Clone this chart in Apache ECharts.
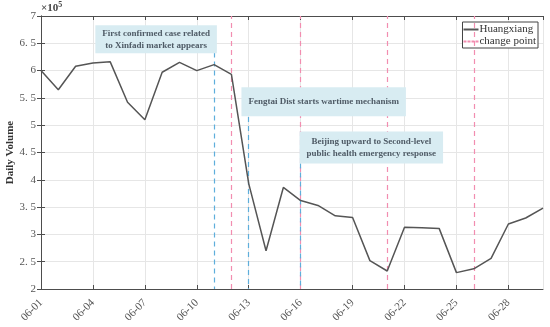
<!DOCTYPE html>
<html>
<head>
<meta charset="utf-8">
<script src="https://cdn.jsdelivr.net/npm/echarts@6/dist/echarts.min.js"></script>
<style>
  html, body { margin: 0; padding: 0; background: #fff; }
  #chart { width: 550px; height: 327px; }
</style>
</head>
<body>
<div id="chart"></div>
<script>
// dates (day index 0 = 06-01)
const days = ['06-01','06-02','06-03','06-04','06-05','06-06','06-07','06-08','06-09','06-10',
              '06-11','06-12','06-13','06-14','06-15','06-16','06-17','06-18','06-19','06-20',
              '06-21','06-22','06-23','06-24','06-25','06-26','06-27','06-28','06-29','06-30'];

// daily volume, in units of 10^5
const huangxiang = [6.00, 5.65, 6.08, 6.14, 6.16, 5.42, 5.10, 5.97, 6.15, 6.00,
                    6.11, 5.93, 3.93, 2.70, 3.86, 3.62, 3.53, 3.34, 3.31, 2.52,
                    2.33, 3.13, 3.12, 3.11, 2.30, 2.37, 2.56, 3.19, 3.30, 3.48];

// change points (day index)
const changePoints = [11, 15, 20, 25];

// event annotations: day of event, text, label centre, top of the guide line
const events = [
  { day: 10, text: 'First confirmed case related\nto Xinfadi market appears', at: [6.65, 6.575], top: 6.33, pad: [2, 7, 2, 7] },
  { day: 12, text: 'Fengtai Dist starts wartime mechanism', at: [16.33, 5.43], top: 5.15, pad: [9, 7, 8, 7] },
  { day: 15, text: 'Beijing upward to Second-level\npublic health emergency response', at: [19.08, 4.59], top: 4.30, pad: [4, 7, 4, 7] }
];

const serif = '"Liberation Serif", "Times New Roman", serif';
const axisColor = '#4d4d4d';

const chart = echarts.init(document.getElementById('chart'));

const xBase = {
  type: 'value', min: 0, max: 29, interval: 3,
  axisLine: { show: true, lineStyle: { color: axisColor, width: 1 } },
  axisTick: { show: true, inside: true, length: 4, lineStyle: { color: axisColor } },
  splitLine: { show: false }
};
const yBase = {
  type: 'value', min: 2, max: 7, interval: 0.5,
  axisLine: { show: true, lineStyle: { color: axisColor, width: 1 } },
  axisTick: { show: true, inside: true, length: 4, lineStyle: { color: axisColor } },
  splitLine: { show: false }
};

const solidIcon = 'path://M0,0H15V2H0Z';
const dashIcon = 'path://M0,0H3V2H0Z M4,0H7V2H4Z M8,0H11V2H8Z M12,0H15V2H12Z';

chart.setOption({
  animation: false,
  backgroundColor: '#fff',
  textStyle: { fontFamily: serif },
  grid: { left: 41, right: 7, top: 16, bottom: 38, containLabel: false, outerBoundsMode: 'none' },
  title: {
    text: '{a|×10}{b|5}',
    left: 41, top: 1,
    padding: 0,
    textStyle: {
      rich: {
        a: { fontFamily: serif, fontSize: 11, color: '#444' },
        b: { fontFamily: serif, fontSize: 8, color: '#444', verticalAlign: 'top', padding: [0, 0, 6, 0] }
      }
    }
  },
  legend: {
    orient: 'vertical',
    right: 12, top: 22,
    padding: [2, 2, 1, 1],
    itemGap: 1,
    itemWidth: 15, itemHeight: 2,
    borderColor: '#444', borderWidth: 1, borderRadius: 0,
    backgroundColor: '#fff',
    textStyle: { fontFamily: serif, fontSize: 11, color: '#333', padding: [0, 0, 0, -4] },
    data: [
      { name: 'Huangxiang', icon: solidIcon, itemStyle: { color: '#555' } },
      { name: 'change point', icon: dashIcon, itemStyle: { color: '#f28db0' } }
    ]
  },
  xAxis: [
    Object.assign({}, xBase, {
      position: 'bottom',
      axisLabel: {
        rotate: 45, fontFamily: serif, fontSize: 11, color: '#555', margin: 12,
        showMaxLabel: false,
        formatter: v => days[v]
      },
      splitLine: { show: true, lineStyle: { color: '#e6e6e6', width: 1 } }
    }),
    Object.assign({}, xBase, { position: 'top', axisLabel: { show: false } })
  ],
  yAxis: [
    Object.assign({}, yBase, {
      position: 'left',
      name: 'Daily Volume',
      nameLocation: 'middle',
      nameGap: 25,
      nameMoveOverlap: false,
      nameTextStyle: { fontFamily: serif, fontSize: 11, fontWeight: 'bold', color: '#333' },
      axisLabel: {
        fontFamily: serif, fontSize: 11, color: '#555', margin: 5,
        formatter: v => String(v).replace('.', '. ')
      },
      splitLine: { show: true, lineStyle: { color: '#e6e6e6', width: 1 } }
    }),
    Object.assign({}, yBase, { position: 'right', axisLabel: { show: false } })
  ],
  series: [
    {
      name: 'Huangxiang',
      type: 'line',
      data: huangxiang.map((v, i) => [i, v]),
      symbol: 'none',
      color: '#555',
      lineStyle: { color: '#555', width: 1.5 },
      z: 5
    },
    {
      name: 'change point',
      type: 'line',
      data: [],
      symbol: 'none',
      color: '#f28db0',
      markLine: {
        silent: true,
        symbol: 'none',
        label: { show: false },
        lineStyle: { color: '#f28db0', width: 1.2, type: [5, 4] },
        data: changePoints.map(d => ({ xAxis: d }))
      }
    },
    {
      name: 'events',
      type: 'line',
      data: [],
      symbol: 'none',
      color: '#5eaedb',
      markLine: {
        silent: true,
        symbol: 'none',
        label: { show: false },
        lineStyle: { color: '#5eaedb', width: 1.2, type: [5, 4] },
        data: events.map(e => [{ coord: [e.day, e.top] }, { coord: [e.day, 2] }])
      },
      markPoint: {
        silent: true,
        symbol: 'rect',
        symbolSize: 0,
        label: {
          show: true,
          position: 'inside',
          fontFamily: serif,
          fontSize: 9,
          fontWeight: 'bold',
          color: '#4f5b66',
          lineHeight: 12,
          align: 'center',
          backgroundColor: '#d8ecf2'
        },
        data: events.map(e => ({ coord: e.at, value: e.text, label: { formatter: e.text, padding: e.pad } }))
      }
    }
  ]
});
</script>
</body>
</html>
